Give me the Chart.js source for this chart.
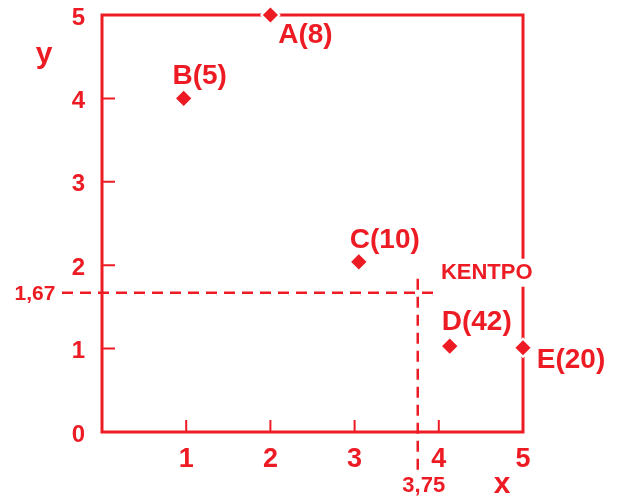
<!DOCTYPE html>
<html>
<head>
<meta charset="utf-8">
<title>Κέντρο βάρους</title>
<script src="https://cdn.jsdelivr.net/npm/chart.js@4"></script>
<style>
  html, body { margin: 0; padding: 0; background: #fff; }
  #wrap { width: 619px; height: 502px; }
</style>
</head>
<body>
<div id="wrap"><canvas id="chart"></canvas></div>
<script>
// points and their weights
const names = ['A', 'B', 'C', 'D', 'E'];
const weights = [8, 5, 10, 42, 20];
const xValues = [2, 0.97, 3.05, 4.13, 5];
const yValues = [5, 4, 2.04, 1.03, 1.01];

// centre of mass
const centreX = 3.75;
const centreY = 1.67;
const centreText = 'KENTPO';

const xTicks = [0, 1, 2, 3, 4, 5];
const yTicks = [0, 1, 2, 3, 4, 5];

const RED = '#ed1c24';
const FONT = 'Arial, "Liberation Sans", sans-serif';

// label offsets from each point (px)
const labelOffsets = [[35, 20], [16, -22], [26, -22], [27, -24], [48, 13]];

const framePlugin = {
  id: 'frame',
  beforeDatasetsDraw(chart) {
    const { ctx, chartArea: a, scales: { x, y } } = chart;
    ctx.save();
    ctx.strokeStyle = RED;
    ctx.lineWidth = 3;
    ctx.strokeRect(a.left, a.top, a.right - a.left, a.bottom - a.top);

    // inward tick marks
    ctx.lineWidth = 2;
    ctx.beginPath();
    xTicks.slice(1, -1).forEach(v => {
      const px = x.getPixelForValue(v);
      ctx.moveTo(px, a.bottom);
      ctx.lineTo(px, a.bottom - 12);
    });
    yTicks.slice(1, -1).forEach(v => {
      const py = y.getPixelForValue(v);
      ctx.moveTo(a.left, py);
      ctx.lineTo(a.left + 13, py);
    });
    ctx.stroke();

    // dashed guides through the centre
    const cx = x.getPixelForValue(centreX);
    const cy = y.getPixelForValue(centreY);
    ctx.setLineDash([11, 7]);
    ctx.lineWidth = 2.5;
    ctx.beginPath();
    ctx.moveTo(62, cy);
    ctx.lineTo(cx + 22, cy);
    ctx.moveTo(cx, cy - 14);
    ctx.lineTo(cx, a.bottom + 40);
    ctx.stroke();
    ctx.setLineDash([]);

    ctx.fillStyle = RED;
    ctx.textAlign = 'center';
    ctx.textBaseline = 'middle';
    ctx.font = 'bold 21px ' + FONT;
    ctx.fillText(String(centreY).replace('.', ','), 35, cy + 1);
    ctx.font = 'bold 22px ' + FONT;
    ctx.fillText(String(centreX).replace('.', ','), cx + 6, a.bottom + 54);

    // axis names
    ctx.font = 'bold 30px ' + FONT;
    ctx.fillText('y', 44, 55);
    ctx.fillText('x', 502, 485);
    ctx.restore();
  },
  afterDatasetsDraw(chart) {
    const { ctx, scales: { x, y } } = chart;
    const meta = chart.getDatasetMeta(0);
    ctx.save();
    ctx.fillStyle = RED;
    ctx.textAlign = 'center';
    ctx.textBaseline = 'middle';
    ctx.font = 'bold 28px ' + FONT;
    meta.data.forEach((pt, i) => {
      const [dx, dy] = labelOffsets[i];
      ctx.fillText(names[i] + '(' + weights[i] + ')', pt.x + dx, pt.y + dy);
    });

    // centre caption on a white patch
    const tx = x.getPixelForValue(centreX) + 69;
    const ty = y.getPixelForValue(centreY) - 20;
    ctx.font = 'bold 22px ' + FONT;
    const w = ctx.measureText(centreText).width;
    ctx.fillStyle = '#fff';
    ctx.fillRect(tx - w / 2 - 3, ty - 14, w + 6, 28);
    ctx.fillStyle = RED;
    ctx.fillText(centreText, tx, ty);
    ctx.restore();
  }
};

new Chart(document.getElementById('chart'), {
  type: 'scatter',
  data: {
    datasets: [{
      data: xValues.map((v, i) => ({ x: v, y: yValues[i] })),
      pointStyle: 'rectRot',
      pointRadius: 9,
      pointHoverRadius: 9,
      backgroundColor: RED,
      borderColor: '#fff',
      borderWidth: 2,
      clip: false
    }]
  },
  options: {
    responsive: true,
    maintainAspectRatio: false,
    animation: false,
    events: [],
    layout: { padding: { top: 15, right: 96, bottom: 0, left: 0 } },
    plugins: { legend: { display: false }, tooltip: { enabled: false } },
    scales: {
      x: {
        type: 'linear',
        min: 0,
        max: 5,
        afterBuildTicks: s => { s.ticks = xTicks.map(v => ({ value: v })); },
        afterFit: s => { s.height = 70; s.paddingLeft = 0; s.paddingRight = 0; },
        grid: { display: false, drawTicks: false },
        border: { display: false },
        ticks: {
          padding: 11,
          color: RED,
          font: { family: FONT, size: 27, weight: 'bold' },
          callback: v => (v === 0 ? '' : v)
        }
      },
      y: {
        type: 'linear',
        min: 0,
        max: 5,
        afterBuildTicks: s => { s.ticks = yTicks.map(v => ({ value: v })); },
        // labels may overhang the top edge
        afterFit: s => { s.width = 102; s.paddingTop = 0; s.paddingBottom = 0; },
        grid: { display: false, drawTicks: false },
        border: { display: false },
        ticks: {
          padding: 17,
          labelOffset: 3,
          color: RED,
          font: { family: FONT, size: 24, weight: 'bold' }
        }
      }
    }
  },
  plugins: [framePlugin]
});
</script>
</body>
</html>
